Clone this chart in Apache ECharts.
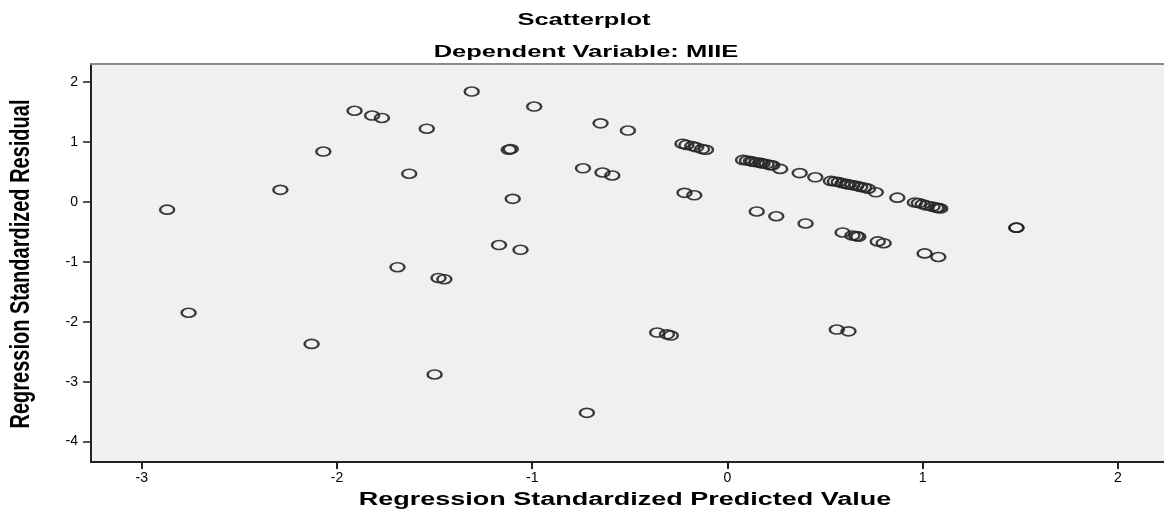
<!DOCTYPE html>
<html>
<head>
<meta charset="utf-8">
<script src="https://cdn.jsdelivr.net/npm/echarts@6/dist/echarts.min.js"></script>
<style>
  html, body { margin: 0; padding: 0; background: #fff; }
  #chart { width: 1164px; height: 512px; }
</style>
</head>
<body>
<div id="chart"></div>
<script>
// 数据: standardized predicted value / standardized residual
var predicted = [
  -2.87, -2.76, -2.29, -2.13, -2.07, -1.91, -1.82, -1.77, -1.69, -1.63,
  -1.54, -1.50, -1.48, -1.45, -1.31, -1.17, -1.12, -1.11, -1.10, -1.06,
  -0.99, -0.74, -0.72, -0.65, -0.64, -0.59, -0.51, -0.36, -0.31, -0.29,
  -0.23, -0.21, -0.18, -0.16, -0.13, -0.11, -0.22, -0.17,
  0.08, 0.10, 0.12, 0.13, 0.15, 0.17, 0.18, 0.20, 0.22, 0.23,
  0.27, 0.37, 0.45,
  0.53, 0.55, 0.57, 0.59, 0.61, 0.62, 0.64, 0.66, 0.68, 0.70, 0.72,
  0.76, 0.87,
  0.96, 0.98, 1.00, 1.02, 1.05, 1.07, 1.08, 1.09,
  0.15, 0.25, 0.40, 0.59, 0.64, 0.66, 0.67, 0.77, 0.80, 1.01, 1.08,
  1.48, 1.48, 0.56, 0.62
];
var residual = [
  -0.13, -1.85, 0.20, -2.37, 0.84, 1.52, 1.44, 1.40, -1.09, 0.47,
  1.22, -2.88, -1.27, -1.29, 1.84, -0.72, 0.87, 0.88, 0.05, -0.80,
  1.59, 0.56, -3.52, 1.31, 0.49, 0.44, 1.19, -2.18, -2.21, -2.23,
  0.97, 0.95, 0.93, 0.91, 0.88, 0.87, 0.15, 0.11,
  0.70, 0.69, 0.68, 0.67, 0.66, 0.65, 0.64, 0.63, 0.61, 0.61,
  0.55, 0.48, 0.41,
  0.35, 0.34, 0.33, 0.31, 0.30, 0.29, 0.28, 0.27, 0.25, 0.24, 0.22,
  0.16, 0.07,
  -0.01, -0.02, -0.04, -0.06, -0.08, -0.10, -0.10, -0.11,
  -0.16, -0.24, -0.36, -0.51, -0.56, -0.57, -0.58, -0.66, -0.69, -0.86, -0.92,
  -0.43, -0.43, -2.13, -2.16
];
var xTicks = [-3, -2, -1, 0, 1, 2];
var yTicks = [-4, -3, -2, -1, 0, 1, 2];

var points = predicted.map(function (v, i) {
  return [v, residual[i]];
});

var chart = echarts.init(document.getElementById('chart'));
var font = 'Liberation Sans, Arial, sans-serif';

var option = {
  backgroundColor: '#fff',
  animation: false,
  grid: {
    left: 91, right: 0, top: 64, bottom: 50,
    show: true,
    backgroundColor: '#f0f0f0',
    borderWidth: 0
  },
  graphic: [
    {
      type: 'text', x: 584, y: 20, scaleX: 1.5,
      style: { text: 'Scatterplot', font: 'bold 17px ' + font, fill: '#000', textAlign: 'center', textVerticalAlign: 'middle' }
    },
    {
      type: 'text', x: 586, y: 52, scaleX: 1.5,
      style: { text: 'Dependent Variable: MIIE', font: 'bold 17px ' + font, fill: '#000', textAlign: 'center', textVerticalAlign: 'middle' }
    },
    {
      type: 'text', x: 625, y: 500, scaleX: 1.5,
      style: { text: 'Regression Standardized Predicted Value', font: 'bold 18px ' + font, fill: '#000', textAlign: 'center', textVerticalAlign: 'middle' }
    },
    {
      type: 'text', x: 22, y: 264, rotation: Math.PI / 2, scaleY: 1.35,
      style: { text: 'Regression Standardized Residual', font: 'bold 20px ' + font, fill: '#000', textAlign: 'center', textVerticalAlign: 'middle' }
    }
  ],
  xAxis: [
    {
      type: 'value',
      min: -3.26, max: 2.236,
      axisLine: { show: true, onZero: false, lineStyle: { color: '#222', width: 2 } },
      axisTick: { show: true, customValues: xTicks, length: 7, lineStyle: { color: '#222', width: 2 } },
      axisLabel: { customValues: xTicks, margin: 9, fontSize: 14, color: '#000', fontFamily: font },
      splitLine: { show: false }
    },
    {
      type: 'value',
      position: 'top',
      min: -3.26, max: 2.236,
      axisLine: { show: true, onZero: false, lineStyle: { color: '#8a8a8a', width: 2 } },
      axisTick: { show: false },
      axisLabel: { show: false },
      splitLine: { show: false }
    }
  ],
  yAxis: {
    type: 'value',
    min: -4.34, max: 2.30,
    axisLine: { show: true, onZero: false, lineStyle: { color: '#222', width: 2 } },
    axisTick: { show: true, customValues: yTicks, length: 8, lineStyle: { color: '#222', width: 1.5 } },
    axisLabel: { customValues: yTicks, margin: 13, fontSize: 14, color: '#000', fontFamily: font },
    splitLine: { show: false }
  },
  series: [
    {
      name: 'residual',
      type: 'scatter',
      xAxisIndex: 0,
      symbol: 'path://M0,50 A50,50 0 1,1 100,50 A50,50 0 1,1 0,50 Z',
      symbolSize: [14, 9],
      itemStyle: {
        color: 'rgba(0,0,0,0)',
        borderColor: '#262626',
        borderWidth: 2,
        opacity: 0.9
      },
      data: points
    }
  ]
};
chart.setOption(option);
</script>
</body>
</html>
